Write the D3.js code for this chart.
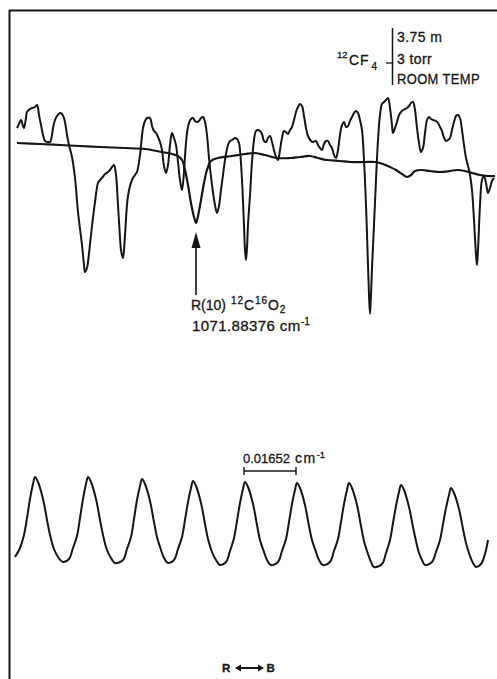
<!DOCTYPE html>
<html>
<head>
<meta charset="utf-8">
<script src="https://cdn.jsdelivr.net/npm/d3@7"></script>
<style>
  body { margin: 0; background: #fff; }
  svg { display: block; }
  text { font-family: "Liberation Sans", Arial, sans-serif; fill: #151515; stroke: #151515; stroke-width: 0.3px; }
</style>
</head>
<body>
<svg id="canvas" width="497" height="679"></svg>
<script>
// scan position (chart units) vs pen deflection, CF4 absorption trace
var cf4Trace = [[17,22],[19,26],[21,30],[23,24],[24,22],[26,32],[27,38],[30,41],[32,42],[35,43],[37,45],[38,42],[39,35],[41,25],[43,15],[45,9],[48,8],[50,8],[52,15],[53,22],[55,30],[57,34],[60,37],[62,36],[64,32],[66,22],[67,15],[69,5],[72,-7],[75,-28],[78,-62],[82,-95],[84,-115],[85,-122],[87,-118],[88,-112],[91,-85],[95,-52],[98,-33],[100,-30],[102,-28],[105,-24],[108,-22],[110,-20],[112,-17],[114,-15],[116,-25],[118,-55],[120,-88],[121,-100],[123,-108],[125,-85],[128,-46],[132,-30],[135,-25],[137,-22],[140,-5],[143,22],[145,29],[147,32],[150,32],[152,24],[154,19],[156,17],[158,13],[160,8],[162,0],[164,-16],[166,-23],[168,-15],[170,5],[172,17],[174,12],[176,5],[178,-12],[180,-30],[182,-40],[184,-22],[185,-6],[187,17],[189,27],[191,31],[193,32],[195,29],[197,28],[199,29],[201,32],[203,33],[205,28],[207,15],[209,-8],[212,-35],[215,-55],[217,-63],[219,-56],[221,-40],[223,-25],[225,-10],[228,5],[230,9],[232,10],[235,12],[237,11],[239,7],[240,0],[242,-30],[244,-75],[245,-100],[246,-110],[247,-98],[248,-75],[250,-45],[252,-12],[254,10],[256,19],[258,20],[260,19],[262,16],[264,9],[266,8],[268,12],[270,14],[272,8],[274,0],[276,-7],[278,-10],[280,0],[282,12],[284,19],[286,18],[288,16],[290,20],[292,23],[294,30],[296,38],[298,43],[300,46],[302,44],[304,34],[306,22],[308,14],[311,9],[313,8],[316,9],[318,5],[320,2],[322,0],[324,6],[326,9],[328,9],[330,5],[332,2],[334,-5],[336,-8],[338,0],[340,15],[342,25],[344,28],[346,23],[348,24],[350,29],[352,33],[354,37],[356,39],[358,37],[360,30],[362,20],[364,-10],[366,-55],[368,-115],[369,-145],[370,-164],[371,-145],[372,-118],[374,-75],[376,-30],[378,10],[380,35],[382,46],[384,48],[386,50],[388,52],[390,42],[392,25],[393,17],[395,22],[397,28],[399,35],[401,38],[403,40],[405,41],[407,42],[409,44],[411,47],[413,48],[415,40],[417,22],[419,7],[421,-2],[423,2],[425,17],[427,30],[429,33],[431,31],[433,30],[436,29],[438,27],[440,23],[442,19],[444,12],[446,9],[448,10],[450,12],[452,20],[454,28],[456,34],[458,35],[460,32],[462,20],[464,5],[466,-8],[468,-16],[470,-25],[472,-40],[474,-70],[476,-105],[477,-115],[478,-100],[480,-55],[482,-30],[484,-26],[486,-33],[488,-43],[490,-38],[492,-31],[494,-28]];

// CO2 reference cell trace, R(10) line
var co2Trace = [[17,7],[40,6],[60,5],[80,4],[100,3],[125,2],[145,1],[162,-2],[172,-4],[178,-6],[182,-10],[185,-20],[188,-35],[191,-53],[194,-67],[196,-73],[198,-66],[201,-50],[204,-33],[207,-20],[211,-11],[218,-8],[232,-6],[245,-4],[255,-3],[265,-5],[277,-8],[290,-8],[300,-7],[310,-6],[318,-8],[327,-10],[340,-11],[350,-12],[365,-12],[375,-12],[383,-14],[390,-17],[396,-20],[402,-24],[407,-27],[411,-25],[415,-21],[422,-20],[430,-21],[440,-22],[450,-21],[457,-20],[465,-21],[472,-23],[480,-25],[488,-26],[495,-26]];

// etalon fringes
var fringeTrace = [[15,13],[20,22],[24,35],[27,52],[30,71],[33,86],[35,93],
  [38,88],[43,71],[47,50],[50,35],[54,21],[58,13],[63,8],[69,11],[73,22],[77,34],[80,52],[83,71],[86,86],[88,93],
  [91,88],[96,71],[100,50],[103,35],[107,20],[111,12],[115,7],[123,10],[127,21],[131,33],[134,51],[137,70],[140,84],[142,91],
  [145,86],[150,69],[154,48],[157,33],[161,20],[164,12],[168,7],[174,10],[178,21],[182,33],[185,50],[188,68],[191,82],[193,89],
  [196,84],[201,67],[205,46],[208,31],[212,18],[216,10],[220,5],[226,8],[230,19],[234,32],[237,49],[240,67],[243,81],[245,88],
  [248,83],[253,66],[257,45],[260,30],[264,18],[267,10],[271,5],[278,8],[282,19],[286,31],[289,48],[292,66],[295,80],[297,87],
  [300,82],[305,65],[309,44],[312,30],[316,18],[319,10],[323,5],[330,8],[334,19],[338,31],[341,48],[344,66],[347,80],[349,87],
  [352,82],[357,65],[361,44],[364,29],[368,16],[371,8],[374,3],[382,6],[386,17],[390,30],[393,47],[396,64],[399,78],[401,85],
  [404,80],[409,63],[413,43],[416,29],[419,17],[422,10],[425,5],[432,8],[436,18],[440,30],[443,46],[446,62],[449,75],[451,82],
  [454,77],[459,61],[463,41],[466,27],[470,14],[473,7],[476,3],[481,6],[485,16],[488,30]];

var cellLabels = ['3.75 m', '3 torr', 'ROOM TEMP'];
var lineLabel = ['R(10)', '1071.88376 cm'];
var fsrStart = 244, fsrWidth = 52;   // one free spectral range, scan units
var fsrLabel = ['0.01652', 'cm'];
var r10Pos = 196;

var svg = d3.select('#canvas');
var ink = '#151515';

var x = d3.scaleLinear().domain([0, 497]).range([0, 497]);
var ySpec = d3.scaleLinear().domain([-170, 60]).range([320, 90]);
var yFringe = d3.scaleLinear().domain([0, 100]).range([570, 470]);

// ************************************************************************************************** //
// Frame

svg.append('line').attr('x1', 9).attr('y1', 10.5).attr('x2', 497).attr('y2', 10.5).style('stroke', ink).style('stroke-width', 2);
svg.append('line').attr('x1', 9.5).attr('y1', 10).attr('x2', 9.5).attr('y2', 679).style('stroke', ink).style('stroke-width', 2);

// ************************************************************************************************** //
// Traces

var specLine = d3.line().x(d => x(d[0])).y(d => ySpec(d[1])).curve(d3.curveCatmullRom.alpha(0.5));
var fringeLine = d3.line().x(d => x(d[0])).y(d => yFringe(d[1])).curve(d3.curveCatmullRom.alpha(0.5));

svg.append('path').attr('d', specLine(co2Trace)).style('fill', 'none').style('stroke', ink).style('stroke-width', 2.2).style('stroke-linejoin', 'round');
svg.append('path').attr('d', specLine(cf4Trace)).style('fill', 'none').style('stroke', ink).style('stroke-width', 2).style('stroke-linejoin', 'round');
svg.append('path').attr('d', fringeLine(fringeTrace)).style('fill', 'none').style('stroke', ink).style('stroke-width', 2);

// ************************************************************************************************** //
// Cell conditions label

var lab = svg.append('g');
lab.append('text').attr('x', 337).attr('y', 58).style('font-size', '9.5px').text('12');
lab.append('text').attr('x', 349).attr('y', 65).style('font-size', '14px').style('letter-spacing', '0.8px').text('CF');
lab.append('text').attr('x', 371.5).attr('y', 69.5).style('font-size', '10px').text('4');
lab.append('line').attr('x1', 386).attr('x2', 392).attr('y1', 63).attr('y2', 63).style('stroke', ink).style('stroke-width', 1.3);
lab.append('line').attr('x1', 392.5).attr('x2', 392.5).attr('y1', 28).attr('y2', 85).style('stroke', ink).style('stroke-width', 1.5);
lab.selectAll('.cond').data(cellLabels).enter().append('text')
  .attr('x', 397).attr('y', (d, i) => [42, 64, 84][i])
  .style('font-size', '14px').style('letter-spacing', '0.4px')
  .attr('textLength', (d, i) => i == 2 ? 83 : null)
  .attr('lengthAdjust', 'spacingAndGlyphs')
  .text(d => d);

// ************************************************************************************************** //
// R(10) marker

var ax = x(r10Pos);
svg.append('line').attr('x1', ax).attr('x2', ax).attr('y1', 295).attr('y2', 244).style('stroke', ink).style('stroke-width', 1.6);
svg.append('path').attr('d', 'M' + ax + ',232 L' + (ax - 4.5) + ',248 L' + (ax + 4.5) + ',248 Z').style('fill', ink);

svg.append('text').attr('x', 191).attr('y', 310).style('font-size', '14px').text(lineLabel[0]);
var t1 = svg.append('text').attr('x', 231).attr('y', 310).style('font-size', '14px').style('letter-spacing', '0.9px');
t1.append('tspan').text('12').style('font-size', '10px').attr('dy', -6);
t1.append('tspan').text('C').attr('dy', 6);
t1.append('tspan').text('16').style('font-size', '10px').attr('dy', -6);
t1.append('tspan').text('O').attr('dy', 6);
t1.append('tspan').text('2').style('font-size', '10px').attr('dy', 3);

var t2 = svg.append('text').attr('x', 192).attr('y', 331).style('font-size', '15px').style('letter-spacing', '0.4px');
t2.append('tspan').text(lineLabel[1]);
t2.append('tspan').text('-1').style('font-size', '10px').attr('dy', -6);

// ************************************************************************************************** //
// Free spectral range bar

var b0 = x(fsrStart), b1 = x(fsrStart + fsrWidth);
svg.append('line').attr('x1', b0).attr('x2', b1).attr('y1', 471).attr('y2', 471).style('stroke', ink).style('stroke-width', 1.6);
[b0, b1].forEach(function(bx){
  svg.append('line').attr('x1', bx).attr('x2', bx).attr('y1', 467).attr('y2', 475).style('stroke', ink).style('stroke-width', 1.4);
});
var t3 = svg.append('text').attr('x', 243).attr('y', 463).style('font-size', '13px');
t3.append('tspan').text(fsrLabel[0]);
t3.append('tspan').text(fsrLabel[1]).attr('x', 295).style('letter-spacing', '1.5px').style('font-size', '14px');
t3.append('tspan').text('-1').style('font-size', '9.5px').attr('dy', -5);

// ************************************************************************************************** //
// Scan direction

svg.append('text').attr('x', 222).attr('y', 672).style('font-size', '11.5px').style('font-weight', 'bold').text('R');
svg.append('text').attr('x', 266.5).attr('y', 672).style('font-size', '11.5px').style('font-weight', 'bold').text('B');
svg.append('line').attr('x1', 238).attr('x2', 261).attr('y1', 668).attr('y2', 668).style('stroke', ink).style('stroke-width', 2);
svg.append('path').attr('d', 'M235,668 L241,664.5 L241,671.5 Z M264,668 L258,664.5 L258,671.5 Z').style('fill', ink);
</script>
</body>
</html>
